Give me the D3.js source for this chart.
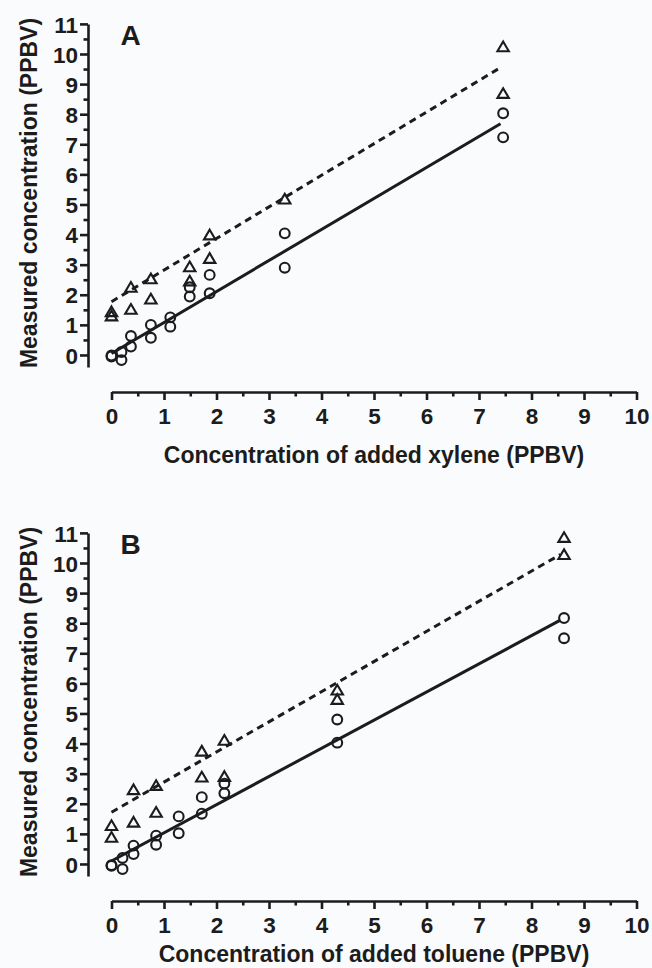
<!DOCTYPE html>
<html>
<head>
<meta charset="utf-8">
<script src="https://cdn.jsdelivr.net/npm/d3@7"></script>
<style>
  body { margin: 0; background: #fafbfd; }
  svg { display: block; }
  text { font-family: 'Liberation Sans', Arial, sans-serif; font-weight: bold; fill: #1c1c1c; }
</style>
</head>
<body>
<div id="chart"></div>
<script>
// tick values
const xTicks = [0, 1, 2, 3, 4, 5, 6, 7, 8, 9, 10];
const yTicks = [0, 1, 2, 3, 4, 5, 6, 7, 8, 9, 10, 11];
const xMinor = [0.5, 1.5, 2.5, 3.5, 4.5, 5.5, 6.5, 7.5, 8.5, 9.5];
const yMinor = [0.5, 1.5, 2.5, 3.5, 4.5, 5.5, 6.5, 7.5, 8.5, 9.5, 10.5];

// panel A - xylene
const xyleneCircleX = [0, 0, 0.19, 0.19, 0.37, 0.37, 0.75, 0.75, 1.12, 1.12, 1.49, 1.49, 1.87, 1.87, 3.3, 3.3, 7.46, 7.46];
const xyleneCircleY = [-0.05, -0.02, 0.1, -0.17, 0.63, 0.28, 1.0, 0.57, 1.25, 0.94, 2.25, 1.94, 2.66, 2.05, 4.04, 2.9, 8.03, 7.23];
const xyleneTriX = [0, 0, 0.37, 0.37, 0.75, 0.75, 1.49, 1.49, 1.87, 1.87, 3.3, 7.46, 7.46];
const xyleneTriY = [1.44, 1.3, 2.25, 1.52, 2.53, 1.86, 2.93, 2.46, 3.99, 3.21, 5.18, 10.24, 8.69];
const xyleneFitX = [0, 7.41];
const xyleneSolidY = [0.05, 7.68];
const xyleneDashY = [1.77, 9.55];

// panel B - toluene
const tolueneCircleX = [0, 0, 0.21, 0.21, 0.42, 0.42, 0.85, 0.85, 1.28, 1.28, 1.72, 1.72, 2.15, 2.15, 4.3, 4.3, 8.62, 8.62];
const tolueneCircleY = [-0.06, -0.04, -0.17, 0.2, 0.61, 0.33, 0.94, 0.64, 1.58, 1.02, 2.22, 1.67, 2.67, 2.35, 4.8, 4.03, 8.17, 7.5];
const tolueneTriX = [0, 0, 0.42, 0.42, 0.85, 0.85, 1.72, 1.72, 2.15, 2.15, 4.3, 4.3, 8.62, 8.62];
const tolueneTriY = [1.28, 0.89, 2.47, 1.39, 2.61, 1.72, 3.75, 2.89, 4.11, 2.91, 5.78, 5.47, 10.85, 10.28];
const tolueneFitX = [0, 8.55];
const tolueneSolidY = [0.1, 8.1];
const tolueneDashY = [1.72, 10.28];

const ink = '#1c1c1c';
const width = 652;
const height = 968;

const svg = d3.select('#chart')
    .append('svg')
    .attr('width', width)
    .attr('height', height);

const zip = (xs, ys) => xs.map((x, i) => ({ x: x, y: ys[i] }));

function drawPanel(g, letter, xTitle, titleY, circles, tris, fitX, solidY, dashY) {
    const xScale = d3.scaleLinear().domain([0, 10]).range([111.5, 636.5]);
    const yScale = d3.scaleLinear().domain([-0.4, 11]).range([367, 23.9]);

    // y axis sits apart from the x axis (prism style)
    const yAxis = g.append('g')
        .attr('transform', 'translate(88,0)')
        .call(d3.axisLeft(yScale).tickValues(yTicks).tickSize(8).tickSizeOuter(0).tickPadding(2));
    g.append('g')
        .attr('transform', 'translate(88,0)')
        .call(d3.axisLeft(yScale).tickValues(yMinor).tickSize(4.5).tickFormat(''))
        .select('.domain').remove();

    g.append('g')
        .attr('transform', 'translate(0,392)')
        .call(d3.axisBottom(xScale).tickValues(xTicks).tickSize(8).tickSizeOuter(0).tickPadding(8));
    g.append('g')
        .attr('transform', 'translate(0,392)')
        .call(d3.axisBottom(xScale).tickValues(xMinor).tickSize(4.5).tickFormat(''))
        .select('.domain').remove();

    g.selectAll('.domain, .tick line')
        .attr('stroke', ink)
        .attr('stroke-width', 2.6);
    g.selectAll('.tick text')
        .style('font-size', '22.5px')
        .attr('fill', ink);
    yAxis.selectAll('.tick text').attr('dy', '0.36em');

    // axis titles
    g.append('text')
        .attr('x', 374)
        .attr('y', titleY)
        .attr('text-anchor', 'middle')
        .style('font-size', '23px')
        .text(xTitle);
    g.append('text')
        .attr('transform', 'translate(37,193) rotate(-90)')
        .attr('text-anchor', 'middle')
        .style('font-size', '23px')
        .text('Measured concentration (PPBV)');

    g.append('text')
        .attr('x', 120.5)
        .attr('y', 45)
        .style('font-size', '28px')
        .text(letter);

    // fit lines
    const line = d3.line().x(d => xScale(d.x)).y(d => yScale(d.y));
    g.append('path')
        .datum(zip(fitX, solidY))
        .attr('d', line)
        .attr('fill', 'none')
        .attr('stroke', ink)
        .attr('stroke-width', 3);
    g.append('path')
        .datum(zip(fitX, dashY))
        .attr('d', line)
        .attr('fill', 'none')
        .attr('stroke', ink)
        .attr('stroke-width', 3)
        .attr('stroke-dasharray', '7,5');

    // markers
    g.selectAll('.circ')
        .data(circles)
        .enter()
        .append('circle')
        .classed('circ', true)
        .attr('cx', d => xScale(d.x))
        .attr('cy', d => yScale(d.y))
        .attr('r', 4.9)
        .attr('fill', 'none')
        .attr('stroke', ink)
        .attr('stroke-width', 2.1);

    g.selectAll('.tri')
        .data(tris)
        .enter()
        .append('path')
        .classed('tri', true)
        .attr('transform', d => `translate(${xScale(d.x)},${yScale(d.y)})`)
        .attr('d', 'M0,-5.2L5.7,4.5L-5.7,4.5Z')
        .attr('fill', 'none')
        .attr('stroke', ink)
        .attr('stroke-width', 2.1);
}

drawPanel(svg.append('g'), 'A', 'Concentration of added xylene (PPBV)', 463,
    zip(xyleneCircleX, xyleneCircleY), zip(xyleneTriX, xyleneTriY),
    xyleneFitX, xyleneSolidY, xyleneDashY);

// panel B: bottom title pulled up slightly so it stays inside the page
drawPanel(svg.append('g').attr('transform', 'translate(0,509)'), 'B', 'Concentration of added toluene (PPBV)', 453,
    zip(tolueneCircleX, tolueneCircleY), zip(tolueneTriX, tolueneTriY),
    tolueneFitX, tolueneSolidY, tolueneDashY);
</script>
</body>
</html>
